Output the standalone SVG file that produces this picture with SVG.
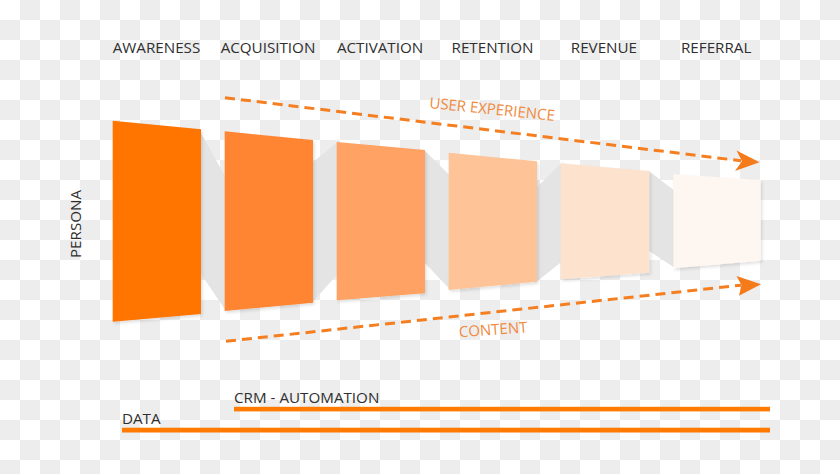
<svg xmlns="http://www.w3.org/2000/svg" width="840" height="474" viewBox="0 0 840 474">
  <defs>
    <pattern id="checker" x="0" y="0" width="40" height="40" patternUnits="userSpaceOnUse">
      <rect width="40" height="40" fill="#ffffff"/>
      <rect x="20" y="0" width="20" height="20" fill="#ededed"/>
      <rect x="0" y="20" width="20" height="20" fill="#ededed"/>
    </pattern>
    <filter id="shadow" x="-10%" y="-10%" width="130%" height="130%">
      <feDropShadow dx="1.5" dy="2" stdDeviation="1.5" flood-color="#000" flood-opacity="0.12"/>
    </filter>
  </defs>
  <style>
    .label { font-family: "Open Sans", "Liberation Sans", sans-serif; font-size: 15.2px; fill: #2f2f2f; }
    .orange-label { font-family: "Open Sans", "Liberation Sans", sans-serif; font-size: 15px; fill: #f08a3e; }
    .fold { fill: #e4e4e4; }
    .panel { filter: url(#shadow); }
    .dash { fill: none; stroke: #f57f20; stroke-width: 3; stroke-dasharray: 10 6; }
    .head { fill: #f57a1a; }
    .bar { fill: #ff7a00; }
  </style>

  <rect id="background" width="840" height="474" fill="url(#checker)"/>

  <g id="folds">
    <polygon class="fold" points="199,129.5 226,178 226,311 199,271"/>
    <polygon class="fold" points="311,164 338.5,141 338.5,273 311,304"/>
    <polygon class="fold" points="423,149 450.5,176 450.5,290 423,261"/>
    <polygon class="fold" points="535,189 562.5,162 562.5,261 535,283"/>
    <polygon class="fold" points="647.5,170 675,191 675,268 647.5,250"/>
  </g>

  <g id="awareness">
    <polygon class="panel" points="112.7,120.7 201,129.3 201,314 112.7,321.7" fill="#ff7500"/>
    <text class="label" x="156.5" y="52.7" text-anchor="middle">AWARENESS</text>
  </g>
  <g id="acquisition">
    <polygon class="panel" points="224.7,131.3 313,140 313,302.7 224.7,311" fill="#ff8532"/>
    <text class="label" x="268" y="52.7" text-anchor="middle">ACQUISITION</text>
  </g>
  <g id="activation">
    <polygon class="panel" points="336.7,142 425,150 425,293.3 336.7,300.3" fill="#ffa263"/>
    <text class="label" x="380.1" y="52.7" text-anchor="middle">ACTIVATION</text>
  </g>
  <g id="retention">
    <polygon class="panel" points="448.7,152.7 537,161.3 537,281.7 448.7,290" fill="#fec396"/>
    <text class="label" x="492.5" y="52.7" text-anchor="middle">RETENTION</text>
  </g>
  <g id="revenue">
    <polygon class="panel" points="560.7,163.3 649.3,171 649.3,272.7 560.7,279.3" fill="#fde2ce"/>
    <text class="label" x="603.9" y="52.7" text-anchor="middle">REVENUE</text>
  </g>
  <g id="referral">
    <polygon class="panel" points="673.3,174 760.7,180 760.7,260.7 673.3,268.3" fill="#fef6f1"/>
    <text class="label" x="716.2" y="52.7" text-anchor="middle">REFERRAL</text>
  </g>

  <g id="persona">
    <text class="label" transform="translate(81,224) rotate(-90)" text-anchor="middle">PERSONA</text>
  </g>

  <g id="connectors">
    <line class="dash" x1="225" y1="97.7" x2="741" y2="160.8"/>
    <polygon class="head" points="759.5,162.3 736.5,150.5 742,161.3 735,171"/>
    <line class="dash" x1="226" y1="341.3" x2="741" y2="285.2"/>
    <polygon class="head" points="761,284.3 736.5,276 741.5,285 739,295.7"/>
  </g>

  <g id="user-experience">
    <text class="orange-label" transform="translate(429,108) rotate(5.8)">USER EXPERIENCE</text>
  </g>
  <g id="content">
    <text class="orange-label" transform="translate(459.3,337.3) rotate(-4.2)">CONTENT</text>
  </g>

  <g id="crm-automation">
    <rect class="bar" x="234" y="406.8" width="536" height="4.6"/>
    <text class="label" x="234" y="403.3">CRM - AUTOMATION</text>
  </g>
  <g id="data">
    <rect class="bar" x="122" y="427.7" width="648" height="4.8"/>
    <text class="label" x="122" y="424.3">DATA</text>
  </g>
</svg>
